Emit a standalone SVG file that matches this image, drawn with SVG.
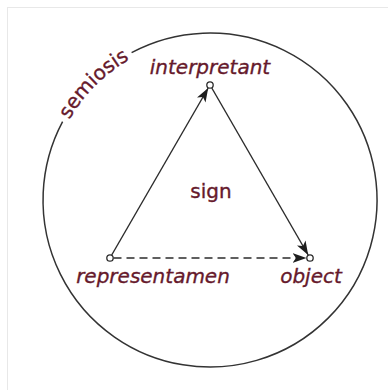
<svg xmlns="http://www.w3.org/2000/svg" width="388" height="390" viewBox="0 0 388 390">
  <style>
    .lbl { font-family: "DejaVu Sans", Verdana, sans-serif; font-size: 20px; fill: #661a2c; stroke: #661a2c; stroke-width: 0.35; }
    .it { font-style: italic; }
    .edge { stroke: #2b2b2b; stroke-width: 1.4; fill: none; }
    .dash { stroke-dasharray: 8 5; }
    .node { fill: #ffffff; stroke: #2b2b2b; stroke-width: 1.3; }
    .ring { stroke: #333333; stroke-width: 1.5; fill: none; }
  </style>
  <defs>
    <marker id="arrow" markerUnits="userSpaceOnUse" markerWidth="15" markerHeight="11" refX="14" refY="5.5" orient="auto">
      <path d="M0,0.5 L14,5.5 L0,10.5 L3.5,5.5 Z" fill="#1e1e1e" stroke="none"/>
    </marker>
    <path id="semioPath" d="M57.8,144.6 A162,162 0 0 1 154.6,47.8"/>
  </defs>
  <rect x="0" y="0" width="388" height="390" fill="#ffffff"/>
  <rect x="7.5" y="7.5" width="400" height="400" fill="none" stroke="#e8e8e8" stroke-width="1"/>

  <g id="semiosis">
    <path class="ring" d="M131.6,52.6 A167,167 0 1 1 62.6,121.6"/>
    <text class="lbl"><textPath href="#semioPath" startOffset="50%" text-anchor="middle">semiosis</textPath></text>
  </g>

  <g id="connectors">
    <line class="edge" x1="111.7" y1="255" x2="208.2" y2="88" marker-end="url(#arrow)"/>
    <line class="edge" x1="211.8" y1="88" x2="308.2" y2="255" marker-end="url(#arrow)"/>
    <line class="edge dash" x1="113.5" y1="258" x2="306.5" y2="258" marker-end="url(#arrow)"/>
  </g>

  <g id="interpretant">
    <circle class="node" cx="210" cy="85" r="3.2"/>
    <text class="lbl it" x="210" y="74" text-anchor="middle">interpretant</text>
  </g>
  <g id="representamen">
    <circle class="node" cx="110" cy="258" r="3.2"/>
    <text class="lbl it" x="153" y="283" text-anchor="middle">representamen</text>
  </g>
  <g id="object">
    <circle class="node" cx="310" cy="258" r="3.2"/>
    <text class="lbl it" x="311" y="283" text-anchor="middle">object</text>
  </g>
  <g id="sign">
    <text class="lbl" x="211" y="198" text-anchor="middle">sign</text>
  </g>
</svg>
